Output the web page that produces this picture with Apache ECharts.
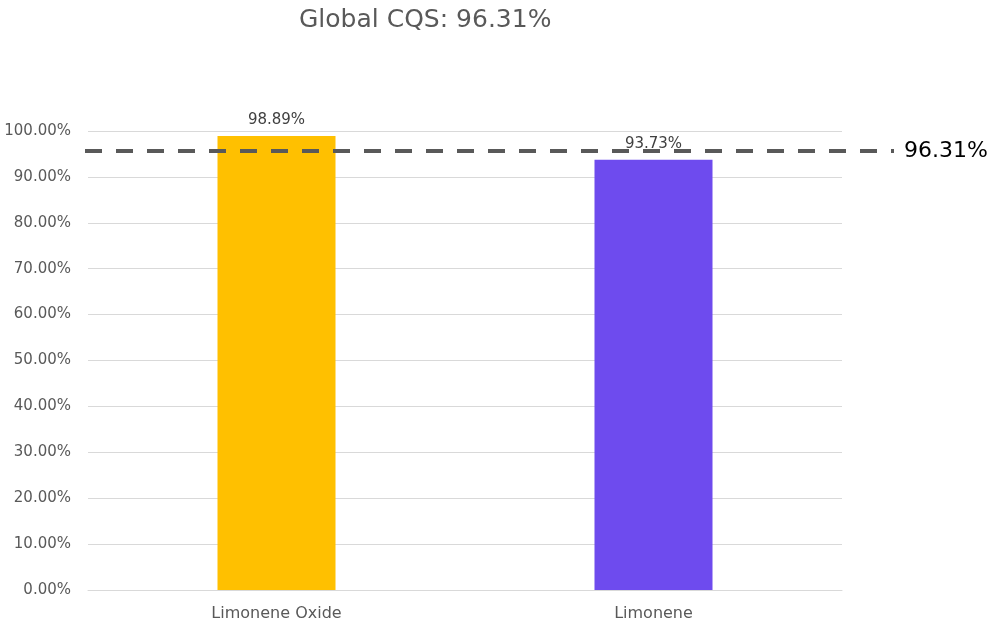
<!DOCTYPE html>
<html>
<head>
<meta charset="utf-8">
<script src="https://cdn.jsdelivr.net/npm/echarts@6/dist/echarts.min.js"></script>
<style>html,body{margin:0;padding:0;background:#fff;}#c{width:991px;height:625px;}</style>
</head>
<body>
<div id="c"></div>
<script>
const categories = ['Limonene Oxide', 'Limonene'];
const cqsValues = [98.89, 93.73];
const barColors = ['#FFC000', '#6E4BEE'];
const globalCQS = 96.31;
const yTicks = { min: 0, max: 100, interval: 10 };
const titleText = 'Global CQS: 96.31%';

const FONT = '"DejaVu Sans", sans-serif';
const chart = echarts.init(document.getElementById('c'), null, { renderer: 'canvas' });
chart.setOption({
  animation: false,
  backgroundColor: '#fff',
  title: {
    text: titleText,
    left: 294, top: 3,
    textStyle: { color: '#595959', fontSize: 25, fontWeight: 'normal', fontFamily: FONT }
  },
  grid: [
    { left: 88, right: 149, top: 131, bottom: 35 },
    { left: 85, right: 97, top: 134, bottom: 32 }
  ],
  xAxis: [
    {
      type: 'category', gridIndex: 0, data: categories,
      axisLine: { lineStyle: { color: '#d9d9d9', width: 1 } },
      axisTick: { show: false },
      axisLabel: { color: '#595959', fontSize: 16, fontFamily: FONT, margin: 16 }
    },
    { type: 'value', gridIndex: 1, min: 0, max: 1, show: false }
  ],
  yAxis: [
    {
      type: 'value', gridIndex: 0, min: yTicks.min, max: yTicks.max, interval: yTicks.interval,
      axisLine: { show: false }, axisTick: { show: false },
      splitLine: { lineStyle: { color: '#d9d9d9', width: 1 } },
      axisLabel: { color: '#595959', fontSize: 15, fontFamily: FONT, margin: 17,
        formatter: v => v.toFixed(2) + '%' }
    },
    { type: 'value', gridIndex: 1, min: yTicks.min, max: yTicks.max, show: false }
  ],
  series: [
    {
      type: 'bar', xAxisIndex: 0, yAxisIndex: 0, barWidth: 118,
      data: cqsValues.map((v, i) => ({ value: v, itemStyle: { color: barColors[i] } })),
      label: { show: true, position: 'top', distance: 8, color: '#404040', fontSize: 15, fontFamily: FONT,
        formatter: p => p.value.toFixed(2) + '%' }
    },
    {
      type: 'line', xAxisIndex: 1, yAxisIndex: 1, symbol: 'none', z: 5,
      data: [[0, globalCQS], [1, globalCQS]],
      lineStyle: { color: '#595959', width: 4, type: [17, 14] },
      endLabel: { show: true, distance: 10, color: '#000', fontSize: 22, fontFamily: FONT,
        formatter: p => p.value[1].toFixed(2) + '%' }
    }
  ]
});
</script>
</body>
</html>
